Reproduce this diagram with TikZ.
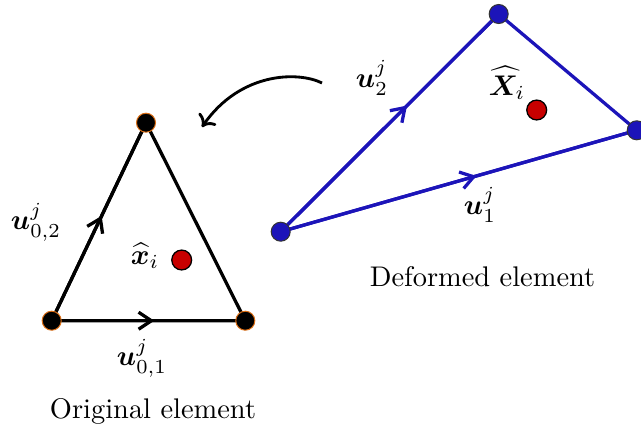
\documentclass[tikz,border=0pt]{standalone}
\usepackage{amsmath,amssymb,bm}
\usetikzlibrary{arrows.meta,decorations.markings}
\definecolor{myblue}{RGB}{28,20,185}
\definecolor{myred}{RGB}{200,0,0}
\definecolor{myorange}{RGB}{220,110,20}
\tikzset{
  edgeblack/.style={draw=black,line width=1.15pt},
  edgeblue/.style={draw=myblue,line width=1.15pt},
  midarrow/.style={postaction={decorate},decoration={markings,mark=at position #1 with {\arrow{Straight Barb[length=4.5pt,width=6pt]}}}},
  vblack/.style={circle,fill=black,draw=myorange,line width=0.35pt,minimum size=6.7pt,inner sep=0pt},
  vblue/.style={circle,fill=myblue,draw=black!80,line width=0.35pt,minimum size=6.7pt,inner sep=0pt},
  reddot/.style={circle,fill=myred,draw=black,line width=0.45pt,minimum size=7pt,inner sep=0pt},
  lbl/.style={inner sep=0pt}
}
\begin{document}
\begin{tikzpicture}[x=0.352pt,y=-0.352pt]
\useasboundingbox (0,0) rectangle (641,432);
% original element
\coordinate (A1) at (51.7,320.7);
\coordinate (A2) at (245.3,320.7);
\coordinate (A3) at (146,122.7);
\draw[edgeblack,line join=round] (A1) -- (A2) -- (A3) -- cycle;
\draw[edgeblack,midarrow=0.53] (A1) -- (A2);
\draw[edgeblack,midarrow=0.53] (A1) -- (A3);
\node[vblack] (a1) at (A1) {};
\node[vblack] (a2) at (A2) {};
\node[vblack] (a3) at (A3) {};
\node[reddot] (xr) at (181.7,260) {};
\node[lbl] (xl) at (145,256) {$\widehat{\bm{x}}_i$};
\node[lbl] (u02) at (36,222) {$\bm{u}_{0,2}^j$};
\node[lbl] (u01) at (142,358) {$\bm{u}_{0,1}^j$};
\node[lbl] (orig) at (153,411) {Original element};
% deformed element
\coordinate (B1) at (280.7,231.7);
\coordinate (B2) at (636.7,130.3);
\coordinate (B3) at (498.7,14);
\draw[edgeblue,line join=round] (B1) -- (B2) -- (B3) -- cycle;
\draw[edgeblue,midarrow=0.55] (B1) -- (B2);
\draw[edgeblue,midarrow=0.58] (B1) -- (B3);
\node[vblue] (b1) at (B1) {};
\node[vblue] (b2) at (B2) {};
\node[vblue] (b3) at (B3) {};
\node[reddot] (Xr) at (536.7,110) {};
\node[lbl] (Xl) at (507,83) {$\widehat{\bm{X}}_i$};
\node[lbl] (u2) at (372,78) {$\bm{u}_{2}^j$};
\node[lbl] (u1) at (480,205) {$\bm{u}_{1}^j$};
\node[lbl] (def) at (482.5,277) {Deformed element};
% curved arrow
\coordinate (c1) at (322,83);
\coordinate (c2) at (202,127);
\draw[line width=1pt,-{To[length=3.8pt,width=7.5pt]}] (c1) .. controls (298,71) and (240,72) .. (c2);
\end{tikzpicture}
\end{document}
